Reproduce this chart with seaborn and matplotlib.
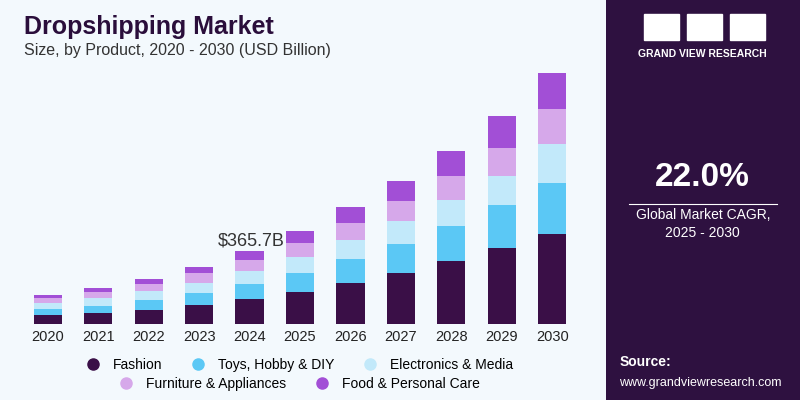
import numpy as np
import pandas as pd
import matplotlib
matplotlib.use('Agg')
import matplotlib.pyplot as plt
import seaborn as sns

plt.rcParams['font.family'] = 'Liberation Sans'

years = [str(y) for y in range(2020, 2031)]
fashion = [45.3, 56.8, 70.4, 94.1, 124.2, 161.0, 204.7, 255.0, 313.4, 378.8, 449.2]
toys = [30.2, 35.2, 48.8, 58.9, 77.0, 95.6, 120.7, 147.4, 176.1, 214.8, 258.0]
electronics = [30.2, 38.7, 45.3, 53.8, 65.4, 80.5, 94.1, 110.7, 129.3, 147.4, 191.1]
furniture = [23.6, 28.7, 35.2, 46.8, 51.8, 68.9, 84.0, 100.6, 119.2, 140.8, 176.1]
food = [16.6, 21.6, 26.7, 33.7, 47.3, 56.8, 82.0, 102.1, 129.3, 157.4, 179.6]
segments = ['Fashion', 'Toys, Hobby & DIY', 'Electronics & Media',
            'Furniture & Appliances', 'Food & Personal Care']
colors = ['#3a0f47', '#5bc8f5', '#c2e9fa', '#d6a8ea', '#a24fd6']

df = pd.DataFrame({'year': years, segments[0]: fashion, segments[1]: toys,
                   segments[2]: electronics, segments[3]: furniture, segments[4]: food})

bg = '#f3f9fd'
fig = plt.figure(figsize=(8, 4), dpi=100, facecolor=bg)
ax = fig.add_axes([0.025, 0.19, 0.70, 0.66], facecolor=bg)

bottom = np.zeros(len(years))
for seg, c in zip(segments, colors):
    sns.barplot(x=df['year'], y=df[seg], bottom=bottom, color=c, width=0.56,
                ax=ax, label=seg, saturation=1)
    bottom += df[seg].values

ax.set_ylim(0, 1320)
ax.set_xlim(-0.55, 10.55)
for s in ax.spines.values():
    s.set_visible(False)
ax.set_yticks([])
ax.set_xlabel('')
ax.set_ylabel('')
ax.tick_params(axis='x', length=0, labelsize=10.5, colors='#222222', pad=4)
ax.axhline(0, color='#aaaaaa', lw=0.6)
ax.text(4.7, bottom[4] + 8, '$%.1fB' % bottom[4], ha='right', va='bottom',
        fontsize=13, color='#333333')
ax.legend().remove()

# legend
handles = [plt.Line2D([], [], marker='o', ls='', color=c, markersize=8) for c in colors]
fig.legend(handles[:3], segments[:3], loc='center', bbox_to_anchor=(0.37, 0.088),
           ncol=3, frameon=False, fontsize=10, handletextpad=0.4, columnspacing=1.6)
fig.legend(handles[3:], segments[3:], loc='center', bbox_to_anchor=(0.37, 0.04),
           ncol=2, frameon=False, fontsize=10, handletextpad=0.4, columnspacing=1.6)

fig.text(0.03, 0.915, 'Dropshipping Market', fontsize=18, fontweight='bold', color='#2a0e3b')
fig.text(0.03, 0.862, 'Size, by Product, 2020 - 2030 (USD Billion)', fontsize=11.5, color='#333333')

# right panel
panel = fig.add_axes([0.757, 0, 0.243, 1], facecolor='#2e1140')
panel.set_xticks([]); panel.set_yticks([])
for s in panel.spines.values():
    s.set_visible(False)
panel.set_xlim(0, 1); panel.set_ylim(0, 1)
for x0 in [0.2, 0.42, 0.64]:
    panel.add_patch(plt.Rectangle((x0, 0.9), 0.18, 0.065, color='white'))
panel.text(0.5, 0.865, 'GRAND VIEW RESEARCH', ha='center', va='center',
           fontsize=7.5, fontweight='bold', color='white')
panel.text(0.5, 0.555, '22.0%', ha='center', va='center', fontsize=24,
           fontweight='bold', color='white')
panel.plot([0.12, 0.88], [0.49, 0.49], color='white', lw=0.8)
panel.text(0.5, 0.44, 'Global Market CAGR,\n2025 - 2030', ha='center', va='center',
           fontsize=10, color='white', linespacing=1.4)
panel.text(0.07, 0.085, 'Source:', fontsize=10, fontweight='bold', color='white')
panel.text(0.07, 0.035, 'www.grandviewresearch.com', fontsize=9, color='white')

fig.savefig('out.png', dpi=100, facecolor=bg)
